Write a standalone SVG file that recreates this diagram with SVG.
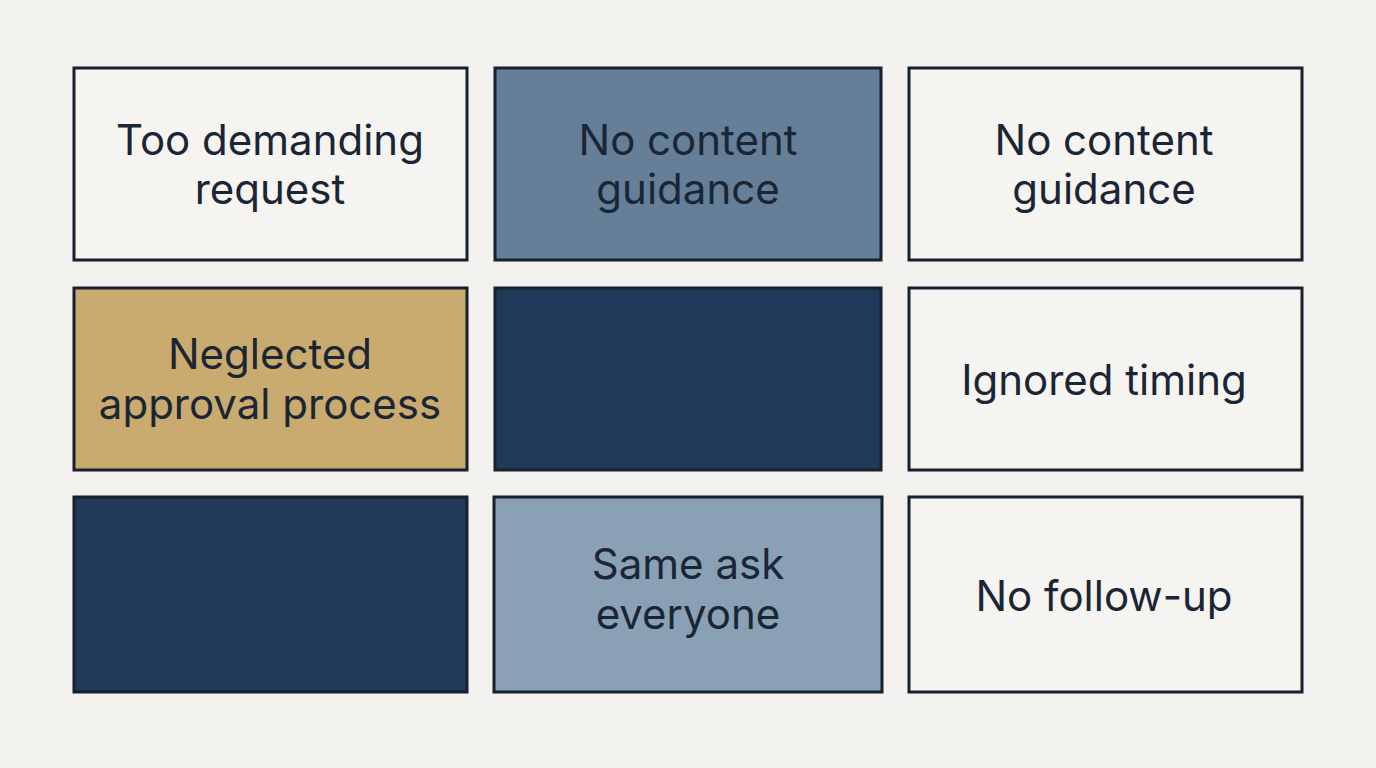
<svg xmlns="http://www.w3.org/2000/svg" width="1376" height="768" viewBox="0 0 1376 768">
<style>
rect.b{stroke:#17212f;stroke-width:3}
text{font-family:Inter,"Noto Sans",sans-serif;font-size:42px;fill:#1a2535;text-anchor:middle}
</style>
<rect width="1376" height="768" fill="#f2f1ed"/>
<g id="n1"><rect class="b" x="74" y="68" width="393" height="192" fill="#f5f4f0"/><text x="270" y="155">Too demanding</text><text x="270" y="204">request</text></g>
<g id="n2"><rect class="b" x="495" y="68" width="386" height="192" fill="#657f99"/><text x="688" y="155">No content</text><text x="688" y="204">guidance</text></g>
<g id="n3"><rect class="b" x="909" y="68" width="393" height="192" fill="#f5f4f0"/><text x="1104" y="155">No content</text><text x="1104" y="204">guidance</text></g>
<g id="n4"><rect class="b" x="74" y="288" width="393" height="182" fill="#c9aa6f"/><text x="270" y="369">Neglected</text><text x="270" y="419">approval process</text></g>
<g id="n5"><rect class="b" x="495" y="288" width="386" height="182" fill="#213a5a"/></g>
<g id="n6"><rect class="b" x="909" y="288" width="393" height="182" fill="#f5f4f0"/><text x="1104" y="395">Ignored timing</text></g>
<g id="n7"><rect class="b" x="74" y="497" width="393" height="195" fill="#213a5a"/></g>
<g id="n8"><rect class="b" x="494" y="497" width="388" height="195" fill="#8aa0b5"/><text x="688" y="579">Same ask</text><text x="688" y="629">everyone</text></g>
<g id="n9"><rect class="b" x="909" y="497" width="393" height="195" fill="#f5f4f0"/><text x="1104" y="611">No follow-up</text></g>
<g id="connectors"/>
</svg>
